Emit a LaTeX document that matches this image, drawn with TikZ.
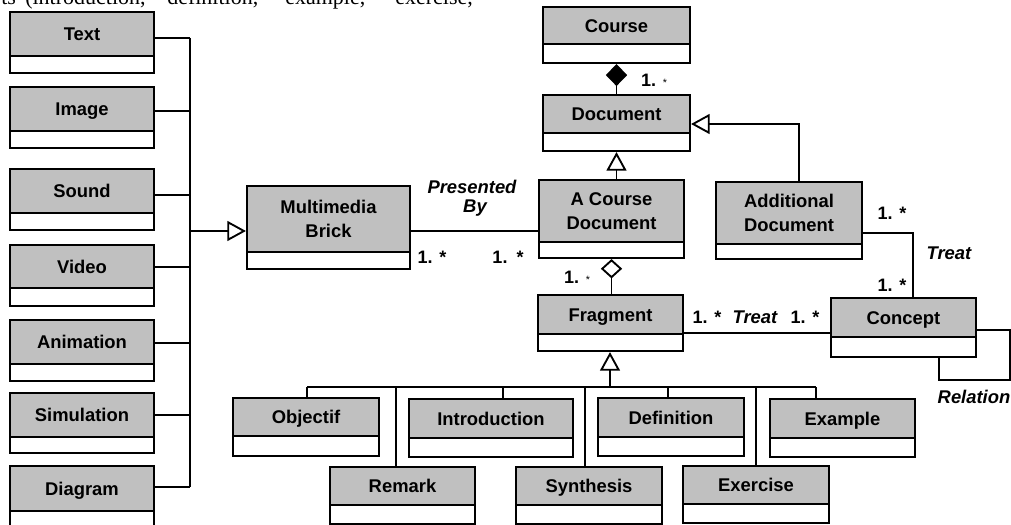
\documentclass[tikz,border=0pt]{standalone}
\usepackage{fontspec}
\setsansfont{Liberation Sans}
\newfontfamily\serifw{Liberation Serif}
\usetikzlibrary{fit,calc,arrows.meta}
\definecolor{clsgray}{HTML}{C0C0C0}
\tikzset{
  clstext/.style={font=\sffamily\bfseries\fontsize{13.8}{18}\selectfont, inner sep=0pt, align=center},
  onel/.style={text height=9.9pt, text depth=0pt},
  twol/.style={},
  conn/.style={line width=1.4pt},
  lbl/.style={font=\sffamily\bfseries\itshape\fontsize{13.8}{16}\selectfont, inner sep=0pt},
  mult/.style={font=\sffamily\bfseries\fontsize{13.5}{16}\selectfont, inner sep=0pt},
  gen/.style={-{Triangle[open, length=14pt, width=15pt]}},
  toptext/.style={anchor=base west, font=\serifw\fontsize{16.5}{18}\selectfont, inner sep=0pt},
}
\newcommand\umlcls[8]{%
  \fill[clsgray] (#2,#3) rectangle (#4,#5);
  \draw[line width=1.6pt] (#2,#5) -- (#4,#5);
  \node[draw, line width=1.6pt, inner sep=0pt, fit={(#2,#3) (#4,#6)}] (#1) {};
  \node[clstext,#8] (#1-t) at ($(#2,#3)!0.5!(#4,#5)$) {#7};
}
\newcommand\lbranch[2]{%
  \path (#1.north east) ++(0,#2) coordinate (#1E);
  \draw[conn] (#1E) -- (#1E -| lbus);
}
\begin{document}
\begin{tikzpicture}[x=0.75pt, y=-0.75pt]
\useasboundingbox (0,0) rectangle (1011,525);

% cut-off body text at the top
\node[toptext] (w1) at (1,4.5) {ts};
\node[toptext] (w2) at (25,4.5) {(introduction,};
\node[toptext] (w3) at (167,4.5) {definition,};
\node[toptext] (w4) at (285,4.5) {example,};
\node[toptext] (w5) at (395,4.5) {exercise,};

% left column
\umlcls{text}{10}{12}{154}{56}{73}{Text}{onel}
\umlcls{image}{10}{87}{154}{131}{148}{Image}{onel}
\umlcls{sound}{10}{169}{154}{213}{230}{Sound}{onel}
\umlcls{video}{10}{245}{154}{288}{306}{Video}{onel}
\umlcls{animation}{10}{320}{154}{364}{381}{Animation}{onel}
\umlcls{simulation}{10}{393}{154}{437}{453}{Simulation}{onel}
\umlcls{diagram}{10}{466}{154}{511}{545}{Diagram}{onel}

% middle / right
\umlcls{mm}{247}{186}{410}{252}{269}{Multimedia\\Brick}{twol}
\umlcls{course}{543}{7}{690}{44}{63}{Course}{onel}
\umlcls{document}{543}{95}{690}{133}{151}{Document}{onel}
\umlcls{acd}{539}{180}{684}{242}{258}{A Course\\Document}{twol}
\umlcls{additional}{716}{182}{862}{244}{259}{Additional\\Document}{twol}
\umlcls{fragment}{538}{295}{683}{334}{351}{Fragment}{onel}
\umlcls{concept}{831}{298}{976}{337}{357}{Concept}{onel}

% fragment subclasses
\umlcls{objectif}{233}{398}{379}{436}{456}{Objectif}{onel}
\umlcls{intro}{409}{399}{573}{438}{457}{Introduction}{onel}
\umlcls{definition}{598}{398}{744}{437}{456}{Definition}{onel}
\umlcls{example}{770}{399}{915}{438}{457}{Example}{onel}
\umlcls{remark}{330}{467}{475}{505}{524}{Remark}{onel}
\umlcls{synthesis}{516}{467}{662}{505}{524}{Synthesis}{onel}
\umlcls{exercise}{683}{466}{829}{504}{523}{Exercise}{onel}

% left generalisation bus
\coordinate (lbus) at (190,231);
\lbranch{text}{27}
\lbranch{image}{25}
\lbranch{sound}{27}
\lbranch{video}{23}
\lbranch{animation}{24}
\lbranch{simulation}{23}
\lbranch{diagram}{22}
\draw[conn] (textE -| lbus) -- (diagramE -| lbus);
\draw[conn,gen] (lbus) -- (lbus -| mm.west);

% Presented By
\draw[conn] (mm.east |- lbus) -- (acd.west |- lbus);
\node[lbl] (pres) at (472,187) {Presented};
\node[lbl] (by) at (475,208) {By};
\node[mult] (m1) at (432,257) {1. *};
\node[mult] (m2) at (508,257) {1.\enspace*};

% Course - Document composition
\draw[conn,{Diamond[length=16.5pt,width=16pt]}-] (course.south) -- (document.north);
\node[mult] (m3) at (654,80) {1. {\fontsize{8}{8}\selectfont\mdseries *}};

% A Course Document -> Document
\draw[conn,gen] (acd.north -| document.south) -- (document.south);

% Additional Document -> Document
\coordinate (ad) at (799,124);
\draw[conn,gen] (additional.north -| ad) |- (document.east |- ad);

% A Course Document <>- Fragment
\draw[conn,{Diamond[open,length=14.5pt,width=16pt]}-] (acd.south) -- (fragment.north -| acd.south);
\node[mult] (m4) at (577,277) {1. {\fontsize{8}{8}\selectfont\mdseries *}};

% Additional Document - Concept (Treat)
\coordinate (tc) at (913,233);
\draw[conn] (additional.east |- tc) -| (concept.north -| tc);
\node[mult] (m5) at (892,213) {1. *};
\node[lbl] (treat1) at (949,253) {Treat};
\node[mult] (m6) at (892,285) {1. *};

% Fragment - Concept (Treat)
\coordinate (fc) at (760,333);
\draw[conn] (fragment.east |- fc) -- (concept.west |- fc);
\node[mult] (m7) at (707,317) {1. *};
\node[lbl] (treat2) at (755,317) {Treat};
\node[mult] (m8) at (805,317) {1. *};

% Concept self relation
\coordinate (l1) at (1010,330);
\coordinate (l2) at (939,380);
\draw[conn] (concept.east |- l1) -- (l1) |- (l2) -- (concept.south -| l2);
\node[lbl] (rel) at (974,397) {Relation};

% Fragment generalisation bus
\coordinate (bus) at (610,387);
\coordinate (d1) at (307,387);
\coordinate (d2) at (396,387);
\coordinate (d3) at (503,387);
\coordinate (d4) at (585,387);
\coordinate (d5) at (668,387);
\coordinate (d6) at (756,387);
\coordinate (d7) at (816,387);
\draw[conn,gen] (bus) -- (fragment.south -| bus);
\draw[conn] (d1) -- (d7);
\draw[conn] (d1) -- (objectif.north -| d1);
\draw[conn] (d2) -- (remark.north -| d2);
\draw[conn] (d3) -- (intro.north -| d3);
\draw[conn] (d4) -- (synthesis.north -| d4);
\draw[conn] (d5) -- (definition.north -| d5);
\draw[conn] (d6) -- (exercise.north -| d6);
\draw[conn] (d7) -- (example.north -| d7);
\end{tikzpicture}
\end{document}
